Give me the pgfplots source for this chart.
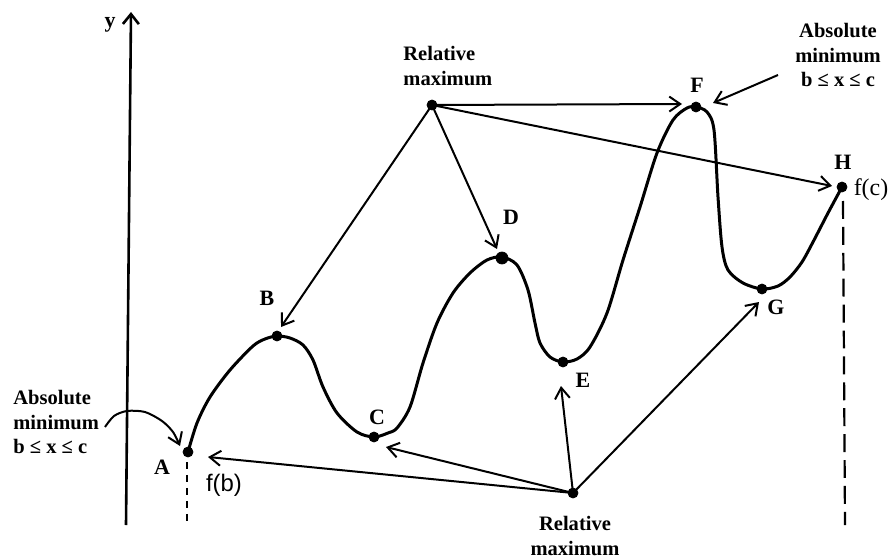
\documentclass[border=0pt]{standalone}
\usepackage{fontspec}
\setmainfont{Liberation Serif}
\newfontfamily\sansf{Liberation Sans}
\usepackage{pgfplots}
\pgfplotsset{compat=1.18}
\usetikzlibrary{arrows.meta}

\tikzset{
  barb/.style={-{Straight Barb[length=5.5pt,width=7.5pt,line width=1bp]}, line width=1bp},
  lab/.style={font=\bfseries\fontsize{10.3}{12.5}\selectfont, inner sep=0pt},
  let/.style={font=\bfseries\fontsize{11}{12}\selectfont, inner sep=0pt},
}

\begin{document}
\begin{tikzpicture}
\begin{axis}[
  width=446bp, height=279.5bp, scale only axis,
  xmin=0, xmax=892, ymin=0, ymax=559, y dir=reverse,
  hide axis, clip=false,
]
% keep the page the size of the drawing
\path (rel axis cs:0,0) rectangle (rel axis cs:1,1);

% y axis
\addplot[-{Straight Barb[length=5pt,width=8pt,line width=1.3bp]}, line width=1.3bp]
  coordinates {(126,525)(131,12)};
\node[let] at (110,25) {y};

% the function, A to H
\addplot[line width=1.5bp, smooth, tension=0.5] coordinates {
(188,452)(197,423)(210,397)(230,370)(253,346)(265,339)(277,336)
(290,338)(303,345)(313,360)(323,387)(337,413)(357,432)(374,437)
(388,433)(397,428)(410,407)(423,363)(437,323)(453,293)(470,273)(487,260)(502,257)
(517,265)(528,290)(535,323)(540,343)(550,357)(563,362)
(577,359)(590,347)(607,313)(623,260)(640,207)(657,153)(673,120)(687,108)(696,107)
(707,112)(714,130)(718,197)(722,247)(728,270)(743,283)(762,289)
(778,286)(790,277)(802,262)(813,242)(828,213)(842,187)};

% end dashes
\addplot[line width=1.1bp, dash pattern=on 3.5pt off 3pt] coordinates {(187,462)(187,522)};
\addplot[line width=1.1bp, dash pattern=on 9pt off 4pt] coordinates {(843,201)(845,525)};

% points
\addplot[only marks, mark=*, mark size=2.5pt] coordinates {
(188,452)(277,336)(374,437)(563,362)(696,107)(762,289)(842,187)(432,105)(573,493)};
\addplot[only marks, mark=*, mark size=3pt] coordinates {(502,258)};

% arrows from the upper label
\addplot[barb] coordinates {(432,105)(281,327)};
\addplot[barb] coordinates {(432,105)(497,249)};
\addplot[barb] coordinates {(432,105)(682,104)};
\addplot[barb] coordinates {(432,105)(832,186)};
% arrows from the lower label
\addplot[barb] coordinates {(573,493)(208,457)};
\addplot[barb] coordinates {(573,493)(386,447)};
\addplot[barb] coordinates {(573,493)(561,386)};
\addplot[barb] coordinates {(573,493)(759,302)};
% absolute minimum arrows
\addplot[barb] coordinates {(778,75)(713,103)};
\addplot[barb, smooth] coordinates {(105,427)(114,416)(127,411)(145,412)(162,421)(173,432)(180,446)};

% letters
\node[let] at (162,467) {A};
\node[let] at (267,298) {B};
\node[let] at (377,417) {C};
\node[let] at (511,217) {D};
\node[let] at (583,380) {E};
\node[let] at (697,85) {F};
\node[let] at (776,307) {G};
\node[let] at (843,162) {H};
\node[font=\sansf\fontsize{12}{13}\selectfont, inner sep=0pt] at (224,485) {f(b)};
\node[font=\fontsize{12}{13}\selectfont, inner sep=0pt] at (871,190) {f(c)};

% text labels
\node[lab, anchor=west, align=left] at (13,422) {Absolute\\minimum\\b ≤ x ≤ c};
\node[lab, align=center] at (838,55) {Absolute\\minimum\\b ≤ x ≤ c};
\node[lab, anchor=west, align=left] at (403,66) {Relative\\maximum};
\node[lab, align=center] at (575,536) {Relative\\maximum};
\end{axis}
\end{tikzpicture}
\end{document}
